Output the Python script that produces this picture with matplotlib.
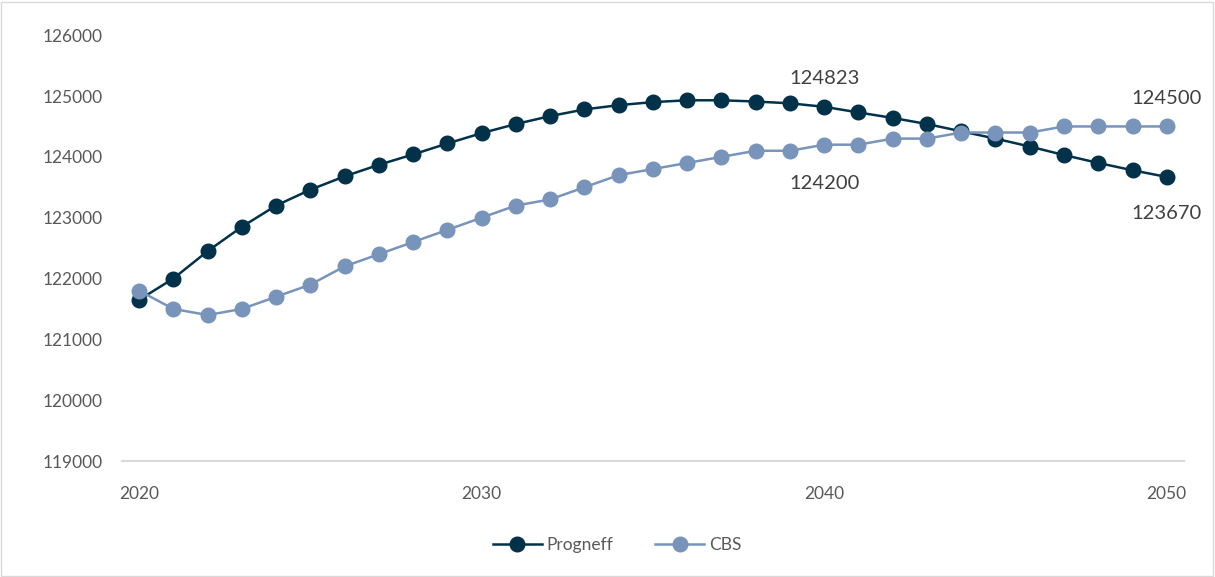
import matplotlib.pyplot as plt
import numpy as np
from matplotlib.patches import Rectangle

plt.rcParams['font.family'] = ['Lato', 'DejaVu Sans']

jaren = list(range(2020, 2051))
progneff = [121650, 122000, 122450, 122850, 123200, 123460, 123680, 123870, 124040, 124220,
            124390, 124540, 124670, 124780, 124850, 124900, 124930, 124930, 124910, 124880,
            124823, 124730, 124640, 124540, 124420, 124300, 124170, 124030, 123900, 123780,
            123670]
cbs = [121800, 121500, 121400, 121500, 121700, 121900, 122200, 122400, 122600, 122800,
       123000, 123200, 123300, 123500, 123700, 123800, 123900, 124000, 124100, 124100,
       124200, 124200, 124300, 124300, 124400, 124400, 124400, 124500, 124500, 124500,
       124500]
y_ticks = [119000, 120000, 121000, 122000, 123000, 124000, 125000, 126000]
x_ticks = [2020, 2030, 2040, 2050]

donker = '#01324A'
licht = '#7894BA'
grijs = '#595959'

fig = plt.figure(figsize=(12.15, 5.77), dpi=100)
ax = fig.add_axes([0.1004, 0.201, 0.874, 0.738])

ax.plot(jaren, progneff, color=donker, lw=1.8, marker='o', ms=10.5, label='Progneff', zorder=3)
ax.plot(jaren, cbs, color=licht, lw=1.8, marker='o', ms=10.5, label='CBS', zorder=4)

# labels bij 2040 en 2050
lbl = dict(ha='center', fontsize=14.5, color='#404040', textcoords='offset points')
ax.annotate(str(progneff[20]), (2040, progneff[20]), xytext=(0, 14), va='bottom', **lbl)
ax.annotate(str(cbs[20]), (2040, cbs[20]), xytext=(0, -22), va='top', **lbl)
ax.annotate(str(cbs[-1]), (2050, cbs[-1]), xytext=(0, 14), va='bottom', **lbl)
ax.annotate(str(progneff[-1]), (2050, progneff[-1]), xytext=(0, -20), va='top', **lbl)

ax.set_xlim(2019.5, 2050.5)
ax.set_ylim(119000, 126000)
ax.set_yticks(y_ticks)
ax.set_xticks(x_ticks)
ax.tick_params(length=0, labelsize=12.5, colors=grijs)
ax.tick_params(axis='y', pad=14)
ax.tick_params(axis='x', pad=18)
for kant in ['top', 'right', 'left']:
    ax.spines[kant].set_visible(False)
ax.spines['bottom'].set_color('#D9D9D9')
ax.spines['bottom'].set_linewidth(1.5)

leg = fig.legend(loc='center', bbox_to_anchor=(0.508, 0.055), ncol=2, frameon=False,
                 fontsize=12.5, handlelength=2.8, columnspacing=2.4, handletextpad=0.3)
for t in leg.get_texts():
    t.set_color(grijs)

fig.add_artist(Rectangle((0.001, 0.002), 0.997, 0.995, transform=fig.transFigure,
                         fill=False, edgecolor='#D9D9D9', lw=1))

fig.savefig('out.png', dpi=100)
